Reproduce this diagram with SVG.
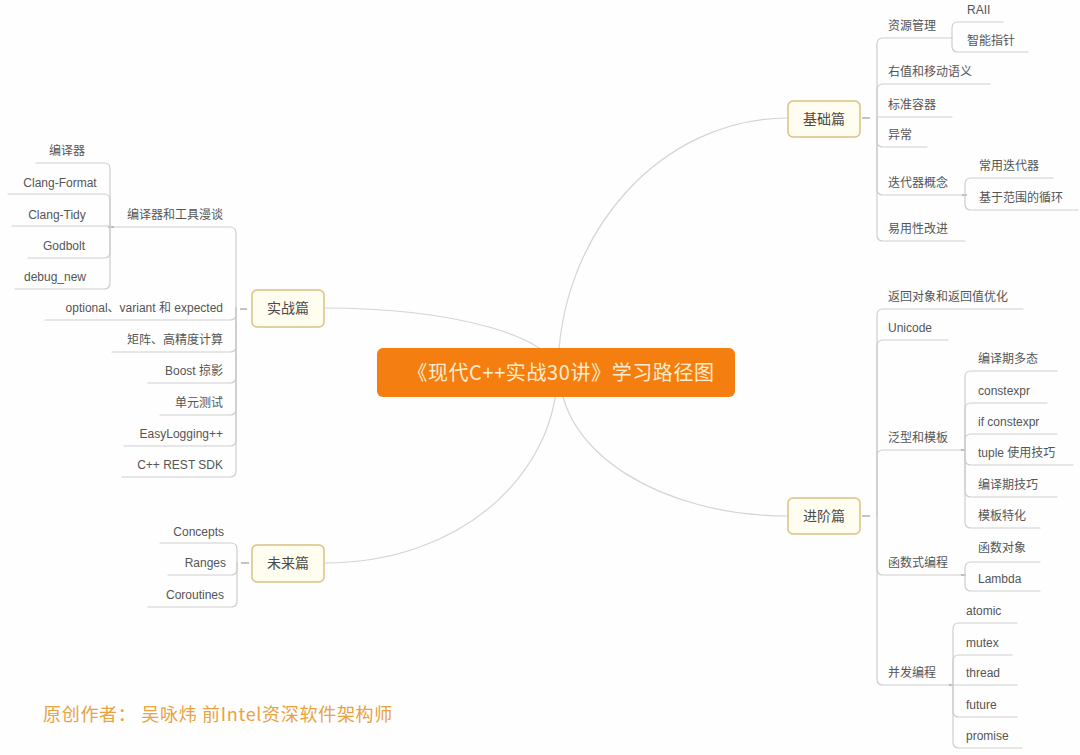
<svg xmlns="http://www.w3.org/2000/svg" width="1080" height="755" viewBox="0 0 1080 755">
<defs>
<style>
.bg{fill:#fefefe}
.main{fill:none;stroke:#d4d4d4;stroke-width:1.2}
.ln{fill:none;stroke:#cdcdcd;stroke-width:1.2;stroke-linecap:round}
.tk{fill:none;stroke:#9a9a9a;stroke-width:1.2}
.t{font-family:"Liberation Sans","Noto Sans CJK SC",sans-serif;font-size:12px;fill:#555}
.e{text-anchor:end}
.m{text-anchor:middle}
.box{fill:#fffcf0;stroke:#d9c183;stroke-width:1.5}
.bt{font-family:"Noto Sans CJK SC","Liberation Sans",sans-serif;font-size:14px;fill:#4a4a4a;text-anchor:middle}
</style>
</defs>
<rect class="bg" x="0" y="0" width="1080" height="755"/>

<g id="connectors">
<path class="main" d="M558,373 C558,233 661,118 788,118"/>
<path class="main" d="M560,373 C560,452 661,516 788,516"/>
<path class="main" d="M557,373 C557,337 453,308 324,308"/>
<path class="main" d="M557,373 C557,470 465,563 324,563"/>

<path class="tk" d="M862,118 H870"/>
<path class="ln" d="M877,118 V44 Q877,38 883,38 H952"/>
<path class="ln" d="M877,118 V90 Q877,84 883,84 H990"/>
<path class="ln" d="M877,118 V117 H952"/>
<path class="ln" d="M877,118 V141 Q877,147 883,147 H927"/>
<path class="ln" d="M877,118 V189 Q877,195 883,195 H963"/>
<path class="ln" d="M877,118 V235 Q877,241 883,241 H965"/>
<path class="ln" d="M952,38 V28 Q952,22 958,22 H1003"/>
<path class="ln" d="M952,38 V46 Q952,52 958,52 H1028"/>
<path class="tk" d="M962,195 H967"/>
<path class="ln" d="M965,195 V184 Q965,178 971,178 H1053"/>
<path class="ln" d="M965,195 V204 Q965,210 971,210 H1078"/>

<path class="tk" d="M862,516 H870"/>
<path class="ln" d="M877,516 V315 Q877,309 883,309 H1023"/>
<path class="ln" d="M877,516 V346 Q877,340 883,340 H948"/>
<path class="ln" d="M877,516 V456 Q877,450 883,450 H962"/>
<path class="ln" d="M877,516 V569 Q877,575 883,575 H962"/>
<path class="ln" d="M877,516 V679 Q877,685 883,685 H950"/>
<path class="tk" d="M961,450 H966"/>
<path class="ln" d="M965,450 V377 Q965,371 971,371 H1057"/>
<path class="ln" d="M965,450 V409 Q965,403 971,403 H1047"/>
<path class="ln" d="M965,450 V440 Q965,434 971,434 H1057"/>
<path class="ln" d="M965,450 V459 Q965,465 971,465 H1073"/>
<path class="ln" d="M965,450 V491 Q965,497 971,497 H1057"/>
<path class="ln" d="M965,450 V522 Q965,528 971,528 H1040"/>
<path class="tk" d="M961,575 H966"/>
<path class="ln" d="M965,575 V568 Q965,562 971,562 H1040"/>
<path class="ln" d="M965,575 V585 Q965,591 971,591 H1040"/>
<path class="tk" d="M949,685 H954"/>
<path class="ln" d="M953,685 V629 Q953,623 959,623 H1017"/>
<path class="ln" d="M953,685 V661 Q953,655 959,655 H1012"/>
<path class="ln" d="M953,685 H1017"/>
<path class="ln" d="M953,685 V711 Q953,717 959,717 H1017"/>
<path class="ln" d="M953,685 V742 Q953,748 959,748 H1022"/>

<path class="tk" d="M247,309 H240"/>
<path class="ln" d="M236,308 V233 Q236,227 230,227 H113"/>
<path class="ln" d="M236,308 V314 Q236,320 230,320 H45"/>
<path class="ln" d="M236,308 V346 Q236,352 230,352 H112"/>
<path class="ln" d="M236,308 V377 Q236,383 230,383 H148"/>
<path class="ln" d="M236,308 V409 Q236,415 230,415 H160"/>
<path class="ln" d="M236,308 V440 Q236,446 230,446 H124"/>
<path class="ln" d="M236,308 V471 Q236,477 230,477 H122"/>
<path class="tk" d="M114,227 H108"/>
<path class="ln" d="M110,227 V169 Q110,163 104,163 H36"/>
<path class="ln" d="M110,227 V200 Q110,194 104,194 H8"/>
<path class="ln" d="M110,227 V226 H12"/>
<path class="ln" d="M110,227 V252 Q110,258 104,258 H28"/>
<path class="ln" d="M110,227 V283 Q110,289 104,289 H15"/>

<path class="tk" d="M249,563 H241"/>
<path class="ln" d="M237,563 V549 Q237,543 231,543 H160"/>
<path class="ln" d="M237,563 V569 Q237,575 231,575 H168"/>
<path class="ln" d="M237,563 V601 Q237,607 231,607 H148"/>
</g>

<g id="center">
<rect x="377" y="348" width="358" height="49" rx="6" fill="#f57e10"/>
<text x="561" y="380" font-family="Noto Sans CJK SC, Liberation Sans, sans-serif" font-size="20" letter-spacing="0.6" fill="#fdeccb" text-anchor="middle">《现代C++实战30讲》学习路径图</text>
</g>

<g id="jichu">
<rect class="box" x="788" y="101" width="72" height="36" rx="5"/>
<text class="bt" x="824" y="124">基础篇</text>
<text class="t" x="888" y="30">资源管理</text>
<text class="t" x="967" y="14">RAII</text>
<text class="t" x="967" y="45">智能指针</text>
<text class="t" x="888" y="76">右值和移动语义</text>
<text class="t" x="888" y="109">标准容器</text>
<text class="t" x="888" y="139">异常</text>
<text class="t" x="888" y="187">迭代器概念</text>
<text class="t" x="979" y="170">常用迭代器</text>
<text class="t" x="979" y="202">基于范围的循环</text>
<text class="t" x="888" y="233">易用性改进</text>
</g>

<g id="jinjie">
<rect class="box" x="788" y="498" width="72" height="36" rx="5"/>
<text class="bt" x="824" y="521">进阶篇</text>
<text class="t" x="888" y="301">返回对象和返回值优化</text>
<text class="t" x="888" y="332">Unicode</text>
<text class="t" x="888" y="442">泛型和模板</text>
<text class="t" x="978" y="363">编译期多态</text>
<text class="t" x="978" y="395">constexpr</text>
<text class="t" x="978" y="426">if constexpr</text>
<text class="t" x="978" y="457">tuple 使用技巧</text>
<text class="t" x="978" y="489">编译期技巧</text>
<text class="t" x="978" y="520">模板特化</text>
<text class="t" x="888" y="567">函数式编程</text>
<text class="t" x="978" y="552">函数对象</text>
<text class="t" x="978" y="583">Lambda</text>
<text class="t" x="888" y="677">并发编程</text>
<text class="t" x="966" y="615">atomic</text>
<text class="t" x="966" y="647">mutex</text>
<text class="t" x="966" y="677">thread</text>
<text class="t" x="966" y="709">future</text>
<text class="t" x="966" y="740">promise</text>
</g>

<g id="shizhan">
<rect class="box" x="252" y="290" width="72" height="37" rx="5"/>
<text class="bt" x="288" y="313">实战篇</text>
<text class="t e" x="223" y="219">编译器和工具漫谈</text>
<text class="t m" x="67" y="155">编译器</text>
<text class="t m" x="60" y="187">Clang-Format</text>
<text class="t m" x="57" y="219">Clang-Tidy</text>
<text class="t m" x="64" y="250">Godbolt</text>
<text class="t m" x="55" y="281">debug_new</text>
<text class="t e" x="223" y="312">optional、variant 和 expected</text>
<text class="t e" x="223" y="344">矩阵、高精度计算</text>
<text class="t e" x="223" y="375">Boost 掠影</text>
<text class="t e" x="223" y="407">单元测试</text>
<text class="t e" x="223" y="438">EasyLogging++</text>
<text class="t e" x="223" y="469">C++ REST SDK</text>
</g>

<g id="weilai">
<rect class="box" x="252" y="545" width="72" height="37" rx="5"/>
<text class="bt" x="288" y="568">未来篇</text>
<text class="t e" x="224" y="536">Concepts</text>
<text class="t e" x="226" y="567">Ranges</text>
<text class="t e" x="224" y="599">Coroutines</text>
</g>

<g id="footer">
<text x="43" y="721" font-family="Noto Sans CJK SC, Liberation Sans, sans-serif" font-size="18" letter-spacing="0.7" fill="#e8a23e">原创作者： 吴咏炜 前Intel资深软件架构师</text>
</g>
</svg>
